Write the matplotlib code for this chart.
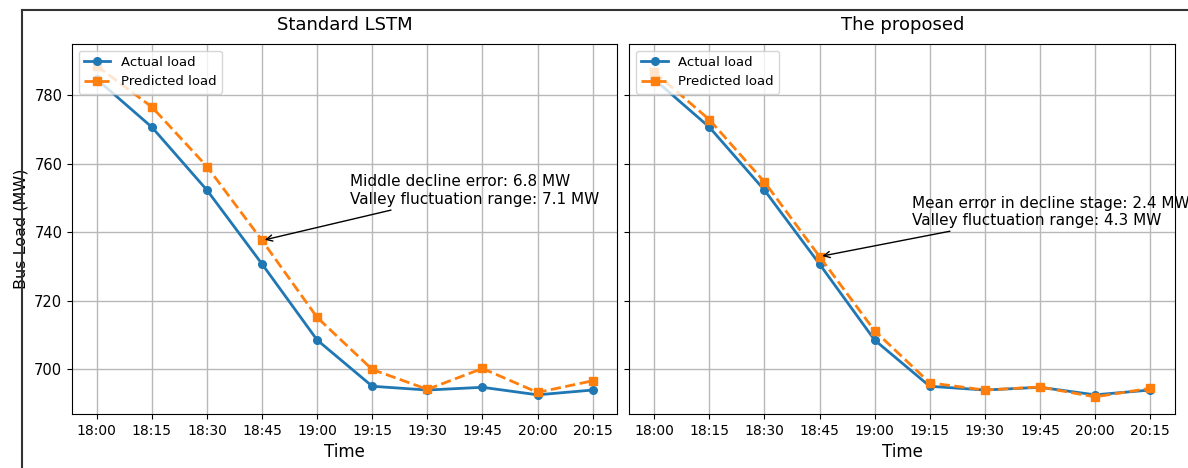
import matplotlib
matplotlib.use("Agg")
import matplotlib.pyplot as plt
from matplotlib.lines import Line2D

times = ["18:00", "18:15", "18:30", "18:45", "19:00", "19:15", "19:30", "19:45", "20:00", "20:15"]
actual = [784.7, 770.7, 752.3, 730.7, 708.5, 695.0, 693.9, 694.7, 692.5, 693.9]
pred_lstm = [788.6, 776.6, 759.2, 737.6, 715.1, 699.9, 694.1, 700.2, 693.2, 696.6]
pred_proposed = [786.8, 772.9, 754.7, 732.9, 711.2, 696.0, 693.9, 694.8, 691.9, 694.4]

titles = ["Standard LSTM", "The proposed"]
notes = ["Middle decline error: 6.8 MW\nValley fluctuation range: 7.1 MW",
         "Mean error in decline stage: 2.4 MW\nValley fluctuation range: 4.3 MW"]
note_pos = [(4.59, 752.2), (4.67, 746.0)]

fig, axes = plt.subplots(1, 2, figsize=(11.88, 4.68), dpi=100, sharey=True)
fig.subplots_adjust(left=0.0606, right=0.989, top=0.906, bottom=0.1154, wspace=0.022)

x = list(range(len(times)))
for ax, pred, title, note, pos in zip(axes, [pred_lstm, pred_proposed], titles, notes, note_pos):
    ax.plot(x, actual, color="#1f77b4", marker="o", markersize=5.5, linewidth=2, label="Actual load")
    ax.plot(x, pred, color="#ff7f0e", marker="s", markersize=5.5, linewidth=2, linestyle="--", label="Predicted load")
    ax.set_title(title, fontsize=13, pad=10)
    ax.set_xlabel("Time", fontsize=12)
    ax.set_xticks(x)
    ax.set_xticklabels(times, fontsize=10)
    ax.tick_params(axis="y", labelsize=10.5)
    ax.grid(True, color="#b8b8b8", linewidth=1)
    ax.legend(loc="upper left", fontsize=9.5)
    ax.annotate(note, xy=(3, pred[3]), xytext=pos, fontsize=11, va="center", ha="left",
                arrowprops=dict(arrowstyle="->", color="black", lw=1))

axes[0].set_ylim(686.9, 795.0)
axes[0].set_ylabel("Bus Load (MW)", fontsize=11.5)

x0 = 22 / 1188
y1 = 1 - 10 / 468
fig.add_artist(Line2D([x0, x0], [0, y1], transform=fig.transFigure, color="#333333", linewidth=1.5))
fig.add_artist(Line2D([x0, 1], [y1, y1], transform=fig.transFigure, color="#333333", linewidth=1.5))

fig.savefig("out.png", dpi=100)
